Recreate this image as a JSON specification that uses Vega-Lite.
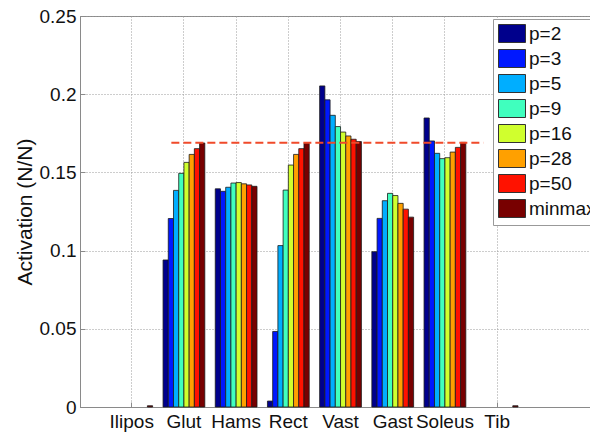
{
  "$schema": "https://vega.github.io/schema/vega-lite/v6.json",
  "width": 510,
  "height": 391,
  "autosize": {"type": "none"},
  "padding": {"left": 80, "top": 16, "right": 0, "bottom": 26},
  "background": "white",
  "config": {
    "font": "Liberation Sans",
    "view": {"stroke": "#8a8a8a", "strokeWidth": 1},
    "axis": {
      "labelFontSize": 19,
      "labelColor": "#111111",
      "titleColor": "#111111",
      "titleFontWeight": "normal",
      "domainColor": "#8a8a8a",
      "tickColor": "#8a8a8a",
      "gridColor": "#9a9a9a",
      "gridOpacity": 1,
      "gridDash": [1, 2],
      "gridWidth": 1
    }
  },
  "datasets": {
    "bars": [
      {"muscle": "Ilipos", "series": "p=2", "value": 0},
      {"muscle": "Ilipos", "series": "p=3", "value": 0},
      {"muscle": "Ilipos", "series": "p=5", "value": 0},
      {"muscle": "Ilipos", "series": "p=9", "value": 0},
      {"muscle": "Ilipos", "series": "p=16", "value": 0},
      {"muscle": "Ilipos", "series": "p=28", "value": 0},
      {"muscle": "Ilipos", "series": "p=50", "value": 0},
      {"muscle": "Ilipos", "series": "minmax", "value": 0.0008},
      {"muscle": "Glut", "series": "p=2", "value": 0.094},
      {"muscle": "Glut", "series": "p=3", "value": 0.1205},
      {"muscle": "Glut", "series": "p=5", "value": 0.1385},
      {"muscle": "Glut", "series": "p=9", "value": 0.1494},
      {"muscle": "Glut", "series": "p=16", "value": 0.1564},
      {"muscle": "Glut", "series": "p=28", "value": 0.1615},
      {"muscle": "Glut", "series": "p=50", "value": 0.1652},
      {"muscle": "Glut", "series": "minmax", "value": 0.1688},
      {"muscle": "Hams", "series": "p=2", "value": 0.1395},
      {"muscle": "Hams", "series": "p=3", "value": 0.1379},
      {"muscle": "Hams", "series": "p=5", "value": 0.1405},
      {"muscle": "Hams", "series": "p=9", "value": 0.1432},
      {"muscle": "Hams", "series": "p=16", "value": 0.1435},
      {"muscle": "Hams", "series": "p=28", "value": 0.1427},
      {"muscle": "Hams", "series": "p=50", "value": 0.142},
      {"muscle": "Hams", "series": "minmax", "value": 0.1411},
      {"muscle": "Rect", "series": "p=2", "value": 0.0038},
      {"muscle": "Rect", "series": "p=3", "value": 0.0483},
      {"muscle": "Rect", "series": "p=5", "value": 0.1032},
      {"muscle": "Rect", "series": "p=9", "value": 0.1387},
      {"muscle": "Rect", "series": "p=16", "value": 0.1547},
      {"muscle": "Rect", "series": "p=28", "value": 0.1615},
      {"muscle": "Rect", "series": "p=50", "value": 0.1652},
      {"muscle": "Rect", "series": "minmax", "value": 0.1686},
      {"muscle": "Vast", "series": "p=2", "value": 0.2053},
      {"muscle": "Vast", "series": "p=3", "value": 0.1964},
      {"muscle": "Vast", "series": "p=5", "value": 0.1865},
      {"muscle": "Vast", "series": "p=9", "value": 0.1793},
      {"muscle": "Vast", "series": "p=16", "value": 0.1758},
      {"muscle": "Vast", "series": "p=28", "value": 0.1733},
      {"muscle": "Vast", "series": "p=50", "value": 0.1712},
      {"muscle": "Vast", "series": "minmax", "value": 0.1697},
      {"muscle": "Gast", "series": "p=2", "value": 0.0993},
      {"muscle": "Gast", "series": "p=3", "value": 0.1206},
      {"muscle": "Gast", "series": "p=5", "value": 0.1319},
      {"muscle": "Gast", "series": "p=9", "value": 0.1366},
      {"muscle": "Gast", "series": "p=16", "value": 0.1352},
      {"muscle": "Gast", "series": "p=28", "value": 0.1302},
      {"muscle": "Gast", "series": "p=50", "value": 0.1265},
      {"muscle": "Gast", "series": "minmax", "value": 0.1214},
      {"muscle": "Soleus", "series": "p=2", "value": 0.1848},
      {"muscle": "Soleus", "series": "p=3", "value": 0.1701},
      {"muscle": "Soleus", "series": "p=5", "value": 0.1622},
      {"muscle": "Soleus", "series": "p=9", "value": 0.1588},
      {"muscle": "Soleus", "series": "p=16", "value": 0.1594},
      {"muscle": "Soleus", "series": "p=28", "value": 0.163},
      {"muscle": "Soleus", "series": "p=50", "value": 0.166},
      {"muscle": "Soleus", "series": "minmax", "value": 0.1692},
      {"muscle": "Tib", "series": "p=2", "value": 0},
      {"muscle": "Tib", "series": "p=3", "value": 0},
      {"muscle": "Tib", "series": "p=5", "value": 0},
      {"muscle": "Tib", "series": "p=9", "value": 0},
      {"muscle": "Tib", "series": "p=16", "value": 0},
      {"muscle": "Tib", "series": "p=28", "value": 0},
      {"muscle": "Tib", "series": "p=50", "value": 0},
      {"muscle": "Tib", "series": "minmax", "value": 0.0008}
    ],
    "target": [{"x": 1.75, "x2": 7.73, "y": 0.169}]
  },
  "layer": [
    {
      "data": {"name": "bars"},
      "mark": {"type": "bar", "stroke": "#1a1a1a", "strokeWidth": 0.8},
      "encoding": {
        "x": {
          "field": "muscle",
          "type": "nominal",
          "scale": {
            "domain": ["Ilipos", "Glut", "Hams", "Rect", "Vast", "Gast", "Soleus", "Tib"],
            "paddingInner": 0.2,
            "paddingOuter": 0.985,
            "align": 0.3
          },
          "axis": {
            "title": null,
            "labelAngle": 0,
            "grid": true,
            "tickSize": -5,
            "labelPadding": 10
          }
        },
        "xOffset": {
          "field": "series",
          "type": "nominal",
          "scale": {
            "domain": ["p=2", "p=3", "p=5", "p=9", "p=16", "p=28", "p=50", "minmax"],
            "paddingInner": 0,
            "paddingOuter": 0
          }
        },
        "y": {
          "field": "value",
          "type": "quantitative",
          "scale": {"domain": [0, 0.25], "nice": false},
          "axis": {
            "title": "Activation (N/N)",
            "titleFontSize": 21,
            "titlePadding": 4,
            "values": [0, 0.05, 0.1, 0.15, 0.2, 0.25],
            "format": "~g",
            "grid": true,
            "tickSize": -5,
            "labelPadding": 9
          }
        },
        "strokeOpacity": {
          "condition": {"test": "datum.value === 0", "value": 0},
          "value": 1
        },
        "color": {
          "field": "series",
          "type": "nominal",
          "scale": {
            "domain": ["p=2", "p=3", "p=5", "p=9", "p=16", "p=28", "p=50", "minmax"],
            "range": ["#00008C", "#0018FF", "#00AEFF", "#40FFBE", "#D0FF2E", "#FFA000", "#FF1200", "#780000"]
          },
          "legend": {
            "title": null,
            "orient": "none",
            "legendX": 413,
            "legendY": 3,
            "labelFontSize": 19,
            "labelColor": "#111111",
            "labelLimit": 0,
            "symbolType": "M-1,-1H2V1H-1Z",
            "symbolSize": 324,
            "symbolStrokeColor": "#333333",
            "symbolStrokeWidth": 1,
            "symbolOpacity": 1,
            "strokeColor": "#999999",
            "fillColor": "white",
            "padding": 5,
            "rowPadding": 2,
            "labelOffset": 12
          }
        }
      }
    },
    {
      "data": {"name": "target"},
      "mark": {"type": "rule", "color": "#F04A2A", "strokeWidth": 2, "strokeDash": [8, 4]},
      "encoding": {
        "x": {"field": "x", "type": "quantitative", "scale": {"domain": [0, 9.77], "nice": false, "zero": false}, "axis": null},
        "x2": {"field": "x2"},
        "y": {"field": "y", "type": "quantitative"}
      }
    }
  ],
  "resolve": {"scale": {"x": "independent"}, "axis": {"x": "independent"}}
}
